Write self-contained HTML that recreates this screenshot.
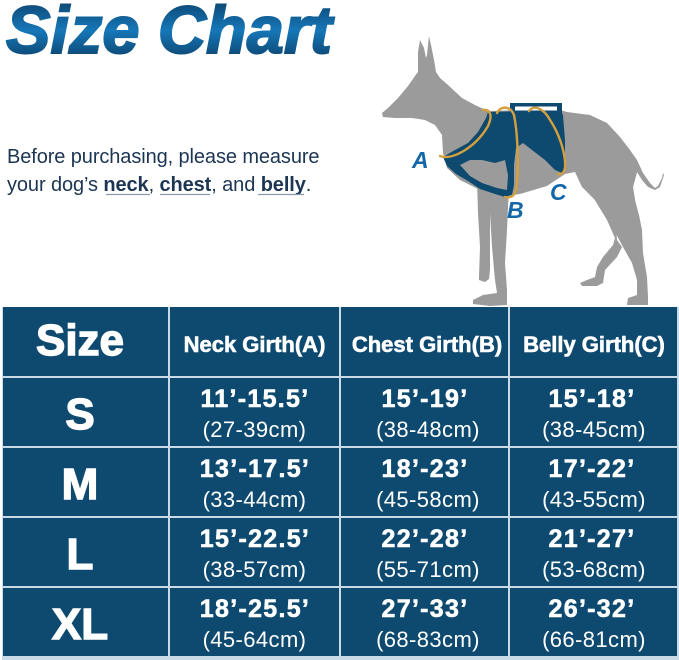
<!DOCTYPE html>
<html><head><meta charset="utf-8"><style>
html,body{margin:0;padding:0;background:#fff;}
body{width:679px;height:660px;overflow:hidden;position:relative;}
svg{position:absolute;left:0;top:0;}
</style></head><body>
<svg width="679" height="660" viewBox="0 0 679 660" xmlns="http://www.w3.org/2000/svg">
<defs>
<linearGradient id="tg" x1="0" y1="0" x2="0" y2="1">
<stop offset="0" stop-color="#0b3a60"/>
<stop offset="0.5" stop-color="#1677b8"/>
<stop offset="1" stop-color="#093659"/>
</linearGradient>
</defs>
<rect width="679" height="660" fill="#fff"/>
<!-- title -->
<text x="6" y="53" font-family="Liberation Sans, sans-serif" font-weight="bold" font-style="italic" font-size="67" fill="url(#tg)" stroke="url(#tg)" stroke-width="2" textLength="326" lengthAdjust="spacingAndGlyphs">Size Chart</text>
<!-- subtitle -->
<g font-family="Liberation Sans, sans-serif" font-size="20" fill="#1c3553">
<text x="7" y="163" letter-spacing="-0.1">Before purchasing, please measure</text>
<text x="7" y="191" letter-spacing="-0.1">your dog’s <tspan font-weight="bold">neck</tspan>, <tspan font-weight="bold">chest</tspan>, and <tspan font-weight="bold">belly</tspan>.</text>
</g>
<g stroke="#8a9aab" stroke-width="1.3">
<line x1="106" y1="194.5" x2="150" y2="194.5"/>
<line x1="160" y1="194.5" x2="210" y2="194.5"/>
<line x1="258" y1="194.5" x2="304" y2="194.5"/>
</g>
<!-- dog -->
<g fill="#9b9b9b">
<polygon points="382,113 388,108 398,98 408,86 415,76 418,72 418,52 420,40 424,48 426,58 427,55 429,36 431,45 434,60 436,72 440,78 448,85 462,98 475,105 488,111 520,110 560,110 567,112 590,115 607,123 620,137 630,150 637,160 643,173 650,183 655,188 658,186 662,178 663,173 664,175 660,187 655,190 648,187 642,180 637,172 633,187 635,200 637,220 620,228 605,215 595,200 582,187 575,172 565,174 547,186 520,194 500,197 480,190 460,180 447,168 443,153 442,135 435,125 425,120 412,118 395,118 383,117"/>
<polygon points="477,180 491,182 490,213 490,247 490,270 489,279 485,282 479,280 479,277 480,247 478,213"/>
<polygon points="489,185 509,190 508,207 507,230 505,263 507,290 507,305 490,306 473,304 473,300 483,295 497,293 495,280 492,247 490,213"/>
<polygon points="573,163 585,175 600,185 612,200 616,225 617,240 622,247 617,257 605,270 603,283 597,286 582,286 580,283 587,280 595,277 597,267 603,257 613,245 615,238 607,220 593,197 580,183"/>
<polygon points="605,160 637,172 633,187 635,200 639,215 642,230 643,253 647,277 648,297 648,305 627,305 628,298 637,295 637,280 632,263 623,247 614,230 610,210 606,188"/>
</g>
<!-- harness -->
<g fill="#0e4a6f">
<polygon points="443,157 455,150 468,143 478,132 486,118 488,112 560,110 563,115 565,140 565,167 562,173 555,170 545,160 532,150 523,143 516,148 514,165 514,185 512,195 505,197 495,194 480,189 468,181 456,174 447,166"/>
<rect x="510" y="103" width="52" height="11"/>
</g>
<rect x="515" y="106.5" width="42" height="4" fill="#fff"/>
<polygon points="460,165 470,160 482,160 495,163 505,160 508,175 507,190 497,188 482,183 470,176" fill="#9b9b9b"/>
<!-- loops -->
<g fill="none" stroke="#d49f3e" stroke-width="2.4" stroke-linecap="round">
<path d="M440,156 C452,161 476,147 488,126 C493,115 490,109 483,110"/>
<path d="M497,113 C500,106 510,105 514,115 C518,135 519,170 516,190 C514,197 510,198 505,197"/>
<path d="M529,111 C533,105 543,107 550,120 C560,135 566,155 565,168 C564,173 561,175 558,174"/>
</g>
<g font-family="Liberation Sans, sans-serif" font-weight="bold" font-style="italic" font-size="23" fill="#1467a8">
<text x="412" y="168">A</text>
<text x="507" y="218">B</text>
<text x="550" y="200">C</text>
</g>
<!-- table -->
<rect x="2" y="307" width="677" height="353" fill="#c9dbe6"/>
<g fill="#0e4a6f">
<rect x="3" y="307" width="165" height="69"/><rect x="170" y="307" width="169" height="69"/><rect x="341" y="307" width="167" height="69"/><rect x="510" y="307" width="167" height="69"/>
<rect x="3" y="378" width="165" height="68"/><rect x="170" y="378" width="169" height="68"/><rect x="341" y="378" width="167" height="68"/><rect x="510" y="378" width="167" height="68"/>
<rect x="3" y="448" width="165" height="68"/><rect x="170" y="448" width="169" height="68"/><rect x="341" y="448" width="167" height="68"/><rect x="510" y="448" width="167" height="68"/>
<rect x="3" y="518" width="165" height="68"/><rect x="170" y="518" width="169" height="68"/><rect x="341" y="518" width="167" height="68"/><rect x="510" y="518" width="167" height="68"/>
<rect x="3" y="588" width="165" height="68"/><rect x="170" y="588" width="169" height="68"/><rect x="341" y="588" width="167" height="68"/><rect x="510" y="588" width="167" height="68"/>
</g>
<g font-family="Liberation Sans, sans-serif" fill="#fff" text-anchor="middle">
<text x="80" y="355" font-size="44" font-weight="bold" stroke="#fff" stroke-width="1.4">Size</text>
<g font-size="22" font-weight="bold" stroke="#fff" stroke-width="0.6">
<text x="254.5" y="352">Neck Girth(A)</text>
<text x="427" y="352">Chest Girth(B)</text>
<text x="594" y="352">Belly Girth(C)</text>
</g>
<g font-size="44" font-weight="bold" stroke="#fff" stroke-width="1.4">
<text x="80" y="429">S</text>
<text x="80" y="499">M</text>
<text x="80" y="569">L</text>
<text x="80" y="639">XL</text>
</g>
<g font-size="25" font-weight="bold" letter-spacing="1.3" stroke="#fff" stroke-width="0.6">
<text x="255" y="407">11’-15.5’</text><text x="425" y="407">15’-19’</text><text x="592" y="407">15’-18’</text>
<text x="255" y="477">13’-17.5’</text><text x="425" y="477">18’-23’</text><text x="592" y="477">17’-22’</text>
<text x="255" y="547">15’-22.5’</text><text x="425" y="547">22’-28’</text><text x="592" y="547">21’-27’</text>
<text x="255" y="617">18’-25.5’</text><text x="425" y="617">27’-33’</text><text x="592" y="617">26’-32’</text>
</g>
<g font-size="22" letter-spacing="0.4">
<text x="254.5" y="437">(27-39cm)</text><text x="428" y="437">(38-48cm)</text><text x="594" y="437">(38-45cm)</text>
<text x="254.5" y="507">(33-44cm)</text><text x="428" y="507">(45-58cm)</text><text x="594" y="507">(43-55cm)</text>
<text x="254.5" y="577">(38-57cm)</text><text x="428" y="577">(55-71cm)</text><text x="594" y="577">(53-68cm)</text>
<text x="254.5" y="647">(45-64cm)</text><text x="428" y="647">(68-83cm)</text><text x="594" y="647">(66-81cm)</text>
</g>
</g>
</svg>
</body></html>
